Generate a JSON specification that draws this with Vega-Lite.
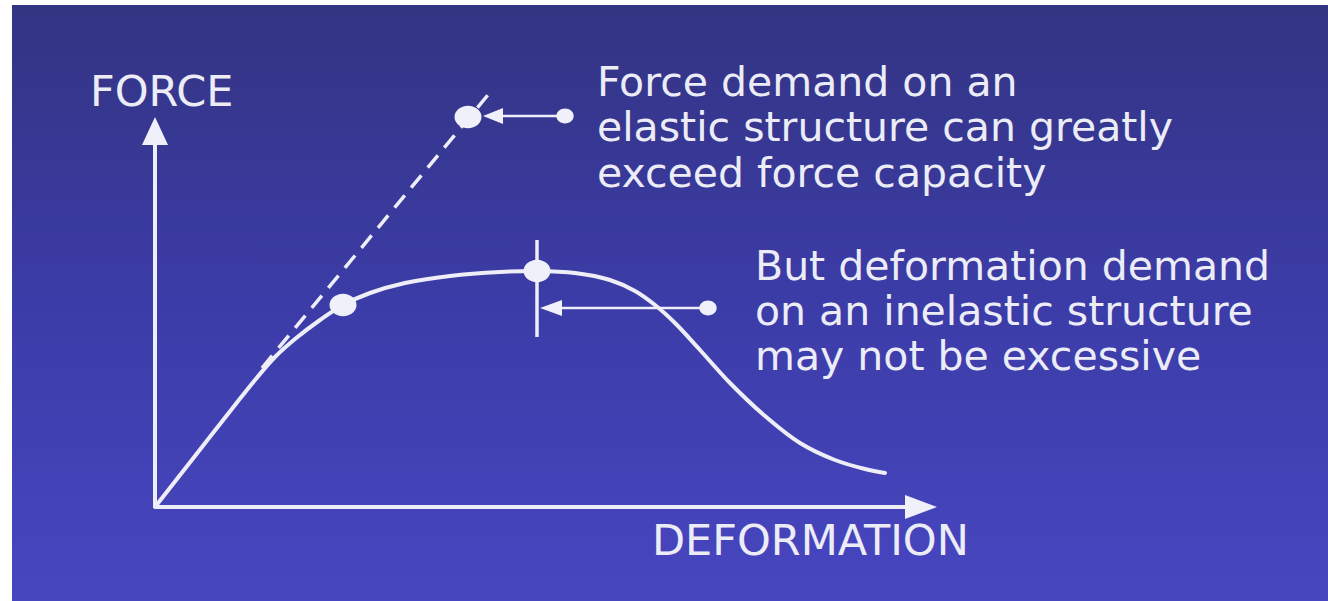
{
  "$schema": "https://vega.github.io/schema/vega-lite/v6.json",
  "width": 1328,
  "height": 601,
  "autosize": {"type": "fit", "contains": "padding"},
  "padding": 0,
  "background": "#ffffff",
  "view": {"stroke": null},
  "datasets": {
    "panel": [{"deformation": -143, "force": 502, "deformation_end": 1173, "force_end": -94}],
    "axes": [
      {"deformation": 0, "force": 0, "deformation_end": 0, "force_end": 362},
      {"deformation": 0, "force": 0, "deformation_end": 752, "force_end": 0}
    ],
    "curve": [
      {"deformation": 0, "force": 0},
      {"deformation": 40, "force": 51},
      {"deformation": 80, "force": 102},
      {"deformation": 100, "force": 127},
      {"deformation": 120, "force": 150},
      {"deformation": 140, "force": 168},
      {"deformation": 165, "force": 187},
      {"deformation": 188, "force": 202},
      {"deformation": 215, "force": 214},
      {"deformation": 250, "force": 224},
      {"deformation": 295, "force": 231},
      {"deformation": 345, "force": 235},
      {"deformation": 382, "force": 236},
      {"deformation": 420, "force": 234},
      {"deformation": 455, "force": 227},
      {"deformation": 480, "force": 216},
      {"deformation": 500, "force": 202},
      {"deformation": 520, "force": 184},
      {"deformation": 545, "force": 157},
      {"deformation": 575, "force": 124},
      {"deformation": 610, "force": 91},
      {"deformation": 645, "force": 64},
      {"deformation": 680, "force": 47},
      {"deformation": 710, "force": 38},
      {"deformation": 730, "force": 34}
    ],
    "elastic": [
      {"deformation": 107, "force": 139},
      {"deformation": 337, "force": 417}
    ],
    "pointers": [
      {"deformation": 410, "force": 391, "deformation_end": 345, "force_end": 391},
      {"deformation": 553, "force": 199, "deformation_end": 403, "force_end": 199}
    ],
    "marker": [
      {"deformation": 382, "force": 267, "deformation_end": 382, "force_end": 170}
    ],
    "demand_points": [
      {"deformation": 313, "force": 390},
      {"deformation": 188, "force": 202},
      {"deformation": 382, "force": 236}
    ],
    "pointer_tails": [
      {"deformation": 410, "force": 391},
      {"deformation": 553, "force": 199}
    ],
    "head_top": [{"deformation": 338, "force": 391}],
    "head_low": [{"deformation": 396, "force": 199}],
    "head_force": [{"deformation": 0, "force": 376}],
    "head_deformation": [{"deformation": 766, "force": 0}],
    "axis_labels": [
      {"deformation": -65, "force": 401, "text": "FORCE"},
      {"deformation": 497, "force": -48, "text": "DEFORMATION"}
    ],
    "notes": [
      {"deformation": 442, "force": 411, "text": "Force demand on an"},
      {"deformation": 442, "force": 366, "text": "elastic structure can greatly"},
      {"deformation": 442, "force": 320, "text": "exceed force capacity"},
      {"deformation": 600, "force": 227, "text": "But deformation demand"},
      {"deformation": 600, "force": 182, "text": "on an inelastic structure"},
      {"deformation": 600, "force": 137, "text": "may not be excessive"}
    ]
  },
  "encoding": {
    "x": {"field": "deformation", "type": "quantitative", "scale": {"domain": [-155, 1173], "nice": false, "zero": false}, "axis": null},
    "y": {"field": "force", "type": "quantitative", "scale": {"domain": [-94, 507], "nice": false, "zero": false}, "axis": null}
  },
  "layer": [
    {
      "data": {"name": "panel"},
      "mark": {
        "type": "rect",
        "fill": {
          "gradient": "linear",
          "x1": 0, "y1": 0, "x2": 0, "y2": 1,
          "stops": [
            {"offset": 0, "color": "#333482"},
            {"offset": 0.5, "color": "#3c3ca8"},
            {"offset": 1, "color": "#4846c0"}
          ]
        }
      },
      "encoding": {
        "x2": {"field": "deformation_end"},
        "y2": {"field": "force_end"}
      }
    },
    {
      "data": {"name": "axes"},
      "mark": {"type": "rule", "color": "#eeeef8", "strokeWidth": 4},
      "encoding": {
        "x2": {"field": "deformation_end"},
        "y2": {"field": "force_end"}
      }
    },
    {
      "data": {"name": "elastic"},
      "mark": {"type": "line", "color": "#eeeef8", "strokeWidth": 3.5, "strokeDash": [16, 10]},
      "encoding": {}
    },
    {
      "data": {"name": "curve"},
      "mark": {"type": "line", "interpolate": "catmull-rom", "color": "#eeeef8", "strokeWidth": 4, "strokeCap": "round"},
      "encoding": {}
    },
    {
      "data": {"name": "pointers"},
      "mark": {"type": "rule", "color": "#eeeef8", "strokeWidth": 2.5},
      "encoding": {
        "x2": {"field": "deformation_end"},
        "y2": {"field": "force_end"}
      }
    },
    {
      "data": {"name": "marker"},
      "mark": {"type": "rule", "color": "#eeeef8", "strokeWidth": 3.5},
      "encoding": {
        "x2": {"field": "deformation_end"},
        "y2": {"field": "force_end"}
      }
    },
    {
      "data": {"name": "demand_points"},
      "mark": {"type": "point", "filled": true, "opacity": 1, "color": "#f0f0fa", "size": 729, "shape": "M-1,0A1,0.83,0,1,0,1,0A1,0.83,0,1,0,-1,0Z"}
    },
    {
      "data": {"name": "pointer_tails"},
      "mark": {"type": "point", "filled": true, "opacity": 1, "color": "#f0f0fa", "size": 300, "shape": "M-1,0A1,0.86,0,1,0,1,0A1,0.86,0,1,0,-1,0Z"}
    },
    {
      "data": {"name": "head_top"},
      "mark": {"type": "point", "filled": true, "opacity": 1, "color": "#f0f0fa", "size": 400, "shape": "M-1,0L1,-0.8L1,0.8Z"}
    },
    {
      "data": {"name": "head_low"},
      "mark": {"type": "point", "filled": true, "opacity": 1, "color": "#f0f0fa", "size": 484, "shape": "M-1,0L1,-0.73L1,0.73Z"}
    },
    {
      "data": {"name": "head_force"},
      "mark": {"type": "point", "filled": true, "opacity": 1, "color": "#f0f0fa", "size": 784, "shape": "M0,-1L0.93,1L-0.93,1Z"}
    },
    {
      "data": {"name": "head_deformation"},
      "mark": {"type": "point", "filled": true, "opacity": 1, "color": "#f0f0fa", "size": 1024, "shape": "M1,0L-1,-0.75L-1,0.75Z"}
    },
    {
      "data": {"name": "axis_labels"},
      "mark": {"type": "text", "align": "left", "baseline": "alphabetic", "font": "DejaVu Sans", "fontSize": 43, "color": "#ececf6"},
      "encoding": {"text": {"field": "text", "type": "nominal"}}
    },
    {
      "data": {"name": "notes"},
      "mark": {"type": "text", "align": "left", "baseline": "alphabetic", "font": "DejaVu Sans", "fontSize": 41, "color": "#ececf6"},
      "encoding": {"text": {"field": "text", "type": "nominal"}}
    }
  ]
}
